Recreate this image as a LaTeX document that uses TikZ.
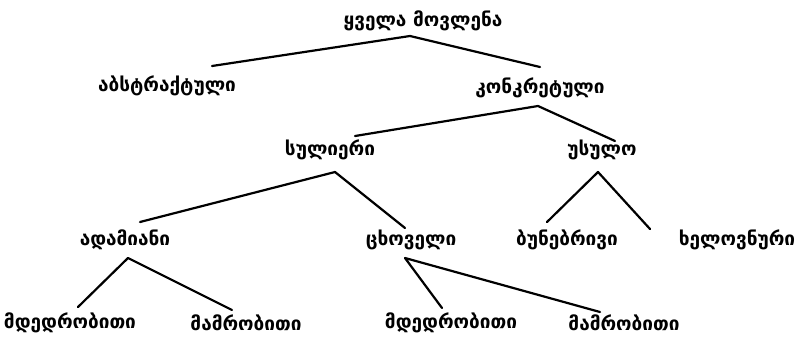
\documentclass[tikz,border=0pt]{standalone}
\usepackage{fontspec}
\newfontfamily\geo[Script=Georgian]{DejaVu Sans}
\usetikzlibrary{calc}
\tikzset{
  term/.style={font=\geo\bfseries\fontsize{19}{22}\selectfont, inner sep=0pt},
  edge/.style={line width=2.2pt, line cap=round, line join=round}
}
\begin{document}
\begin{tikzpicture}[x=1pt,y=-1pt]
\useasboundingbox (0,0) rectangle (811,341);
\node[term] (top) at (423,21) {ყველა მოვლენა};
\node[term] (abs) at (167,86) {აბსტრაქტული};
\node[term] (konk) at (540,88) {კონკრეტული};
\node[term] (sul) at (330,150) {სულიერი};
\node[term] (usul) at (602,150) {უსულო};
\node[term] (adam) at (125,240) {ადამიანი};
\node[term] (cxov) at (411,240) {ცხოველი};
\node[term] (bun) at (567,240) {ბუნებრივი};
\node[term] (xel) at (737,240) {ხელოვნური};
\node[term] (f1) at (70,323) {მდედრობითი};
\node[term] (m1) at (246,323) {მამრობითი};
\node[term] (f2) at (451,323) {მდედრობითი};
\node[term] (m2) at (624,323) {მამრობითი};

\draw[edge] ($(abs.center)+(45,-20)$) -- ($(top.center)+(-13,15)$) -- ($(konk.center)+(0,-21)$);
\draw[edge] ($(sul.center)+(25,-14)$) -- ($(konk.center)+(-2,18)$) -- ($(usul.center)+(13,-9)$);
\draw[edge] ($(adam.center)+(15,-18)$) -- ($(sul.center)+(5,22)$) -- ($(cxov.center)+(-6,-12)$);
\draw[edge] ($(bun.center)+(-20,-18)$) -- ($(usul.center)+(-4,22)$) -- ($(xel.center)+(-87,-11)$);
\draw[edge] ($(f1.center)+(8,-16)$) -- ($(adam.center)+(3,18)$) -- ($(m1.center)+(-14,-13)$);
\draw[edge] ($(f2.center)+(-9,-15)$) -- ($(cxov.center)+(-6,18)$) -- ($(m2.center)+(-24,-11)$);
\end{tikzpicture}
\end{document}
